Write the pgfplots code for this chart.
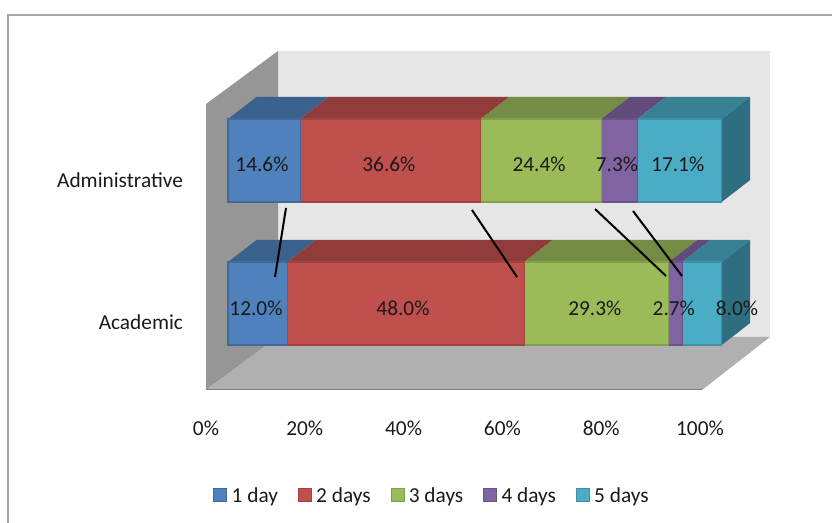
\documentclass[border=0pt]{standalone}
\usepackage{pgfplots}
\pgfplotsset{compat=1.18}
\usepackage{fontspec}
\setmainfont{Carlito}
% Series colours and their darker shades for the 3D faces
\definecolor{cA}{HTML}{4F81BD}\definecolor{cAt}{HTML}{3B618E}\definecolor{cAe}{HTML}{41699A}
\definecolor{cB}{HTML}{C0504D}\definecolor{cBt}{HTML}{903C3A}\definecolor{cBe}{HTML}{A24341}
\definecolor{cC}{HTML}{9BBB59}\definecolor{cCt}{HTML}{748C43}\definecolor{cCe}{HTML}{849F4B}
\definecolor{cD}{HTML}{8064A2}\definecolor{cDt}{HTML}{604B7A}\definecolor{cDe}{HTML}{6C5489}
\definecolor{cE}{HTML}{4BACC6}\definecolor{cEt}{HTML}{388194}\definecolor{cEs}{HTML}{2F6E80}\definecolor{cEe}{HTML}{3F91A8}
\definecolor{framegray}{HTML}{A6A6A6}
\definecolor{backwall}{HTML}{E6E6E6}
\definecolor{sidewall}{HTML}{969696}
\definecolor{floorgray}{HTML}{B0B0B0}
\definecolor{inktext}{HTML}{1A1A1A}
\newcommand{\chartfont}{\fontsize{16pt}{18pt}\selectfont}
% Shared canvas: 0.75pt per unit on the y axis, 832 x 523 units overall
\pgfplotsset{
  canvas/.style={at={(0,0)},anchor=south west,scale only axis,width=624pt,height=392.25pt,
    hide axis,clip=true,ymin=0,ymax=523},
  pctx/.style={xmin=-46.18,xmax=122.34},
}
\begin{document}
\begin{tikzpicture}
\path[use as bounding box] (0,0) rectangle (624pt,392.25pt);
% Outer frame, walls and floor
\begin{axis}[canvas,xmin=0,xmax=832]
  \addplot[framegray,line width=1.6pt,forget plot] coordinates {(8,0) (8,508) (832,508)};
  \addplot[fill=backwall,draw=none] coordinates {(278,472) (770,472) (770,186) (278,186)} -- cycle;
  \addplot[fill=sidewall,draw=none] coordinates {(206,419) (278,472) (278,186) (206,133)} -- cycle;
  \addplot[fill=floorgray,draw=none] coordinates {(206,133) (702,133) (770,186) (278,186)} -- cycle;
  \addplot[color=sidewall!85!black,line width=1pt] coordinates {(206,133.3) (702,133.3)};
\end{axis}
% Top and end faces of the bars
\begin{axis}[canvas,pctx]
  \addplot[fill=cAt,draw=none] coordinates {(0,404) (14.6,404) (20.37,426) (5.77,426)} -- cycle;
  \addplot[fill=cBt,draw=none] coordinates {(14.6,404) (51.2,404) (56.97,426) (20.37,426)} -- cycle;
  \addplot[fill=cCt,draw=none] coordinates {(51.2,404) (75.6,404) (81.37,426) (56.97,426)} -- cycle;
  \addplot[fill=cDt,draw=none] coordinates {(75.6,404) (82.9,404) (88.67,426) (81.37,426)} -- cycle;
  \addplot[fill=cEt,draw=none] coordinates {(82.9,404) (100,404) (105.77,426) (88.67,426)} -- cycle;
  \addplot[fill=cEs,draw=none] coordinates {(100,404) (105.77,426) (105.77,343) (100,321)} -- cycle;
  \addplot[fill=cAt,draw=none] coordinates {(0,261) (12,261) (17.77,283) (5.77,283)} -- cycle;
  \addplot[fill=cBt,draw=none] coordinates {(12,261) (60,261) (65.77,283) (17.77,283)} -- cycle;
  \addplot[fill=cCt,draw=none] coordinates {(60,261) (89.3,261) (95.07,283) (65.77,283)} -- cycle;
  \addplot[fill=cDt,draw=none] coordinates {(89.3,261) (92,261) (97.77,283) (95.07,283)} -- cycle;
  \addplot[fill=cEt,draw=none] coordinates {(92,261) (100,261) (105.77,283) (97.77,283)} -- cycle;
  \addplot[fill=cEs,draw=none] coordinates {(100,261) (105.77,283) (105.77,200) (100,178)} -- cycle;
\end{axis}
% Stacked bars and legend
\begin{axis}[canvas,pctx,xbar stacked,bar width=62.25pt,
    legend columns=5,
    legend style={at={(axis cs:41.4,27)},anchor=center,draw=none,fill=none,font=\chartfont,text=inktext,
      /tikz/every even column/.style={column sep=13pt},inner sep=0pt},
    legend image code/.code={\draw[#1,line width=0.5pt] (0pt,-4pt) rectangle (9.75pt,6pt);\path (11pt,0pt);}]
  \addplot[fill=cA,draw=cAe,line width=0.8pt] coordinates {(12.0,219.5) (14.6,362.5)};
  \addplot[fill=cB,draw=cBe,line width=0.8pt] coordinates {(48.0,219.5) (36.6,362.5)};
  \addplot[fill=cC,draw=cCe,line width=0.8pt] coordinates {(29.3,219.5) (24.4,362.5)};
  \addplot[fill=cD,draw=cDe,line width=0.8pt] coordinates {(2.7,219.5) (7.3,362.5)};
  \addplot[fill=cE,draw=cEe,line width=0.8pt] coordinates {(8.0,219.5) (17.1,362.5)};
  \legend{1 day,2 days,3 days,4 days,5 days}
\end{axis}
% Value labels and the connecting lines between the two bars
\begin{axis}[canvas,pctx]
  \addplot[draw=none,mark=none,point meta=explicit symbolic,
    nodes near coords,nodes near coords align={center},
    every node near coord/.append style={anchor=center,inner sep=0pt,text=inktext,font=\chartfont}]
    coordinates {
      (6.89,359) [14.6\%] (32.6,359) [36.6\%] (63.0,359) [24.4\%] (78.8,359) [7.3\%] (91.1,359) [17.1\%]
      (5.67,215) [12.0\%] (35.45,215) [48.0\%] (74.3,215) [29.3\%] (90.3,215) [2.7\%] (103.1,215) [8.0\%]
    };
  \addplot[black,line width=1.5pt] coordinates {(11.75,315) (9.52,246)};
  \addplot[black,line width=1.5pt] coordinates {(49.42,313) (58.54,246)};
  \addplot[black,line width=1.5pt] coordinates {(74.34,314) (88.72,247)};
  \addplot[black,line width=1.5pt] coordinates {(82.03,312) (91.96,247)};
\end{axis}
% Percentage scale and category names
\begin{axis}[at={(154.5pt,99.75pt)},anchor=south west,scale only axis,width=370.5pt,height=214.5pt,
    xmin=0,xmax=100,ymin=133,ymax=419,
    axis line style={draw=none},major tick length=0pt,tick style={draw=none},
    xtick={0,20,40,60,80,100},xticklabels={0\%,20\%,40\%,60\%,80\%,100\%},
    ytick={201,343},yticklabels={Academic,Administrative},
    xticklabel style={anchor=center,yshift=-29pt,font=\chartfont,text=inktext},
    yticklabel style={anchor=east,xshift=-13.75pt,font=\chartfont,text=inktext}]
\end{axis}
\end{tikzpicture}
\end{document}
